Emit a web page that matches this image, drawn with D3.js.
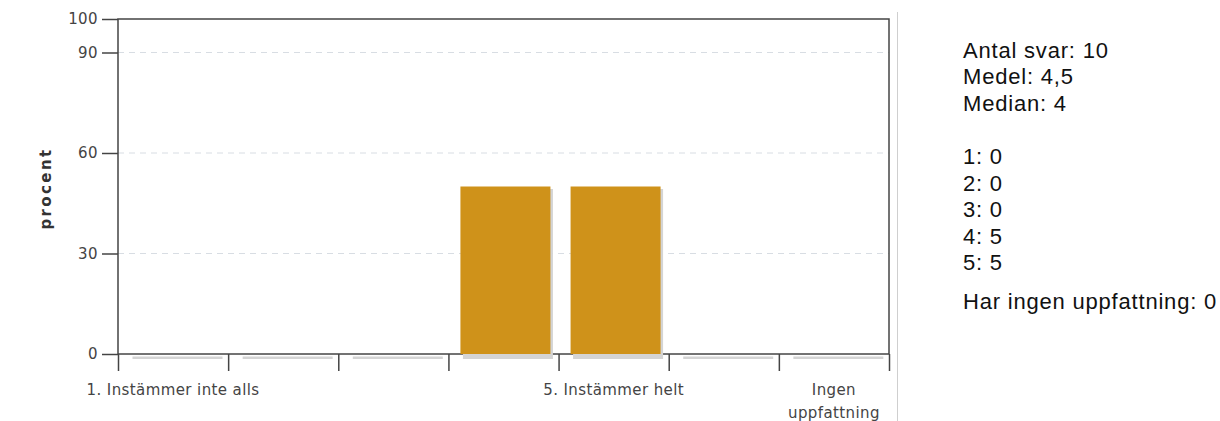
<!DOCTYPE html>
<meta charset="utf-8">
<style>
body { margin: 0; background: #fff; }
.axis text { font-family: "DejaVu Sans", sans-serif; font-size: 15px; fill: #444; letter-spacing: 0.4px; }
.axis line, .axis path { stroke: #444; stroke-width: 1.5px; }
.grid line { stroke: #d8dde3; stroke-dasharray: 6,5; stroke-width: 1px; }
.stats text { font-family: "Liberation Sans", Arial, sans-serif; font-size: 22px; fill: #111; letter-spacing: 0.8px; }
</style>
<body>
<script src="https://d3js.org/d3.v7.min.js"></script>
<script>

// data
var categories = ["1", "2", "3", "4", "5", "6", "Ingen"];
var percent = [0, 0, 0, 50, 50, 0, 0];
var catLabels = ["1. Instämmer inte alls", "", "", "", "5. Instämmer helt", "", "Ingen|uppfattning"];
var yTicks = [0, 30, 60, 90, 100];
var gridTicks = [30, 60, 90];
var summaryLines = ["Antal svar: 10", "Medel: 4,5", "Median: 4"];
var countLines = ["1: 0", "2: 0", "3: 0", "4: 5", "5: 5"];
var noOpinionLine = "Har ingen uppfattning: 0";

var W = 1220, H = 421;
var plot = {left: 118, right: 889, top: 19, bottom: 354};

var svg = d3.select("body").append("svg")
    .attr("width", W)
    .attr("height", H);

var x = d3.scaleBand().domain(categories).range([plot.left, plot.right]);
var xi = d3.scaleLinear().domain([0, categories.length]).range([plot.left, plot.right]);
var y = d3.scaleLinear().domain([0, 100]).range([plot.bottom, plot.top]);

// dashed grid
svg.append("g")
    .attr("class", "grid")
  .selectAll("line")
  .data(gridTicks)
  .enter().append("line")
    .attr("x1", plot.left)
    .attr("x2", plot.right)
    .attr("y1", function(d) { return y(d); })
    .attr("y2", function(d) { return y(d); });

// frame
svg.append("rect")
    .attr("x", plot.left)
    .attr("y", plot.top)
    .attr("width", plot.right - plot.left)
    .attr("height", plot.bottom - plot.top)
    .attr("fill", "none")
    .attr("stroke", "#444")
    .attr("stroke-width", 1.5);

// y axis
svg.append("g")
    .attr("class", "axis")
    .attr("transform", "translate(" + plot.left + ",0)")
    .call(d3.axisLeft(y).tickValues(yTicks).tickSize(16).tickPadding(4).tickSizeOuter(0))
    .call(function(g) { g.select(".domain").remove(); });

// boundary ticks below the x axis
svg.append("g")
    .attr("class", "axis")
    .attr("transform", "translate(0," + plot.bottom + ")")
    .call(d3.axisBottom(xi).tickValues(d3.range(categories.length + 1)).tickSize(17).tickFormat(""))
    .call(function(g) { g.select(".domain").remove(); });

// category labels
var labelAxis = svg.append("g")
    .attr("class", "axis")
    .attr("transform", "translate(0," + plot.bottom + ")")
    .call(d3.axisBottom(x).tickSize(0).tickPadding(30)
      .tickFormat(function(d, i) { return ""; }))
    .call(function(g) { g.select(".domain").remove(); });

labelAxis.selectAll(".tick text").each(function(d) {
  var parts = catLabels[categories.indexOf(d)].split("|");
  var t = d3.select(this);
  parts.forEach(function(p, k) {
    t.append("tspan")
        .attr("x", 0)
        .attr("dy", k === 0 ? "0.71em" : "1.55em")
        .text(p);
  });
});

// bar shadows
var bw = 90, bOff = 12;
svg.append("g")
  .selectAll("rect")
  .data(percent)
  .enter().append("rect")
    .attr("x", function(d, i) { return x(categories[i]) + bOff + 2.5; })
    .attr("y", function(d) { return y(d) + 2.5; })
    .attr("width", bw)
    .attr("height", function(d) { return y(0) - y(d) + 2.5; })
    .attr("fill", "#d4d4d4");

// bars
svg.append("g")
  .selectAll("rect")
  .data(percent)
  .enter().append("rect")
    .attr("x", function(d, i) { return x(categories[i]) + bOff; })
    .attr("y", function(d) { return y(d); })
    .attr("width", bw)
    .attr("height", function(d) { return y(0) - y(d); })
    .attr("fill", "#cf921a");

// y axis title
svg.append("text")
    .attr("transform", "translate(51," + ((plot.top + plot.bottom) / 2 + 2) + ") rotate(-90)")
    .attr("text-anchor", "middle")
    .attr("font-family", "DejaVu Sans, sans-serif")
    .attr("font-size", "15px")
    .attr("font-weight", "bold")
    .attr("letter-spacing", "2.4px")
    .attr("fill", "#333")
    .text("procent");

// separator
svg.append("line")
    .attr("x1", 897.5).attr("x2", 897.5)
    .attr("y1", 12).attr("y2", H)
    .attr("stroke", "#cfcfcf")
    .attr("stroke-width", 1);

// statistics on the right
var stats = svg.append("g").attr("class", "stats");
var lines = summaryLines.concat([""], countLines);
stats.selectAll("text.l")
  .data(lines)
  .enter().append("text")
    .attr("class", "l")
    .attr("x", 963)
    .attr("y", function(d, i) { return 57.5 + i * 26.6; })
    .text(function(d) { return d; });
stats.append("text")
    .attr("x", 963)
    .attr("y", 309)
    .text(noOpinionLine);

</script>
